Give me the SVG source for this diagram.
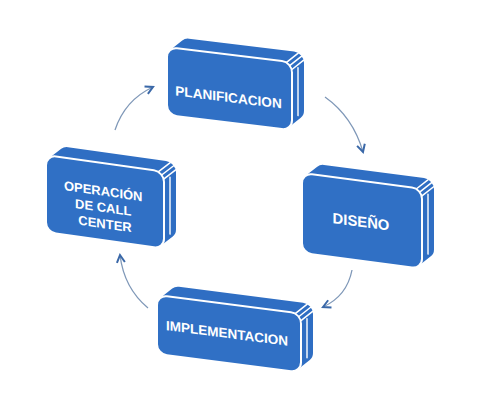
<svg xmlns="http://www.w3.org/2000/svg" width="484" height="414" viewBox="0 0 484 414">
<defs>
<style>
.slab{fill:#2f6ec3;}
.front{fill:#3070c5;stroke:#ffffff;stroke-width:2;}
.det{fill:none;stroke:#ffffff;stroke-width:1.4;stroke-linecap:round;}
.lbl{font-family:"Liberation Sans",Arial,sans-serif;font-weight:bold;fill:#ffffff;text-anchor:middle;}
.conn{fill:none;stroke:#7f98b8;stroke-width:1.3;}
</style>
<marker id="ah" viewBox="0 0 10 10" refX="9" refY="5" markerWidth="10" markerHeight="10" markerUnits="userSpaceOnUse" orient="auto" overflow="visible">
<path d="M1.5,1 L9,5 L1.5,9" fill="none" stroke="#3a68a8" stroke-width="2" stroke-linejoin="miter"/>
</marker>
</defs>
<rect width="484" height="414" fill="#ffffff"/>

<g id="connectors">
<path class="conn" d="M115,130 Q125,100 153,87" marker-end="url(#ah)"/>
<path class="conn" d="M325,97 Q353,117 363,152" marker-end="url(#ah)"/>
<path class="conn" d="M352,270 Q347,296 323,307" marker-end="url(#ah)"/>
<path class="conn" d="M148,308 Q124,288 120,255" marker-end="url(#ah)"/>
</g>

<g id="planificacion" transform="translate(167,47) skewY(7)">
<path class="slab" d="M3.24,2.63 L15.24,-8.37 A10,10 0 0 1 22,-11 H127 A10,10 0 0 1 137,-1 V47 A10,10 0 0 1 133.76,54.37 L121.76,65.37 A10,10 0 0 1 115,68 H10 A10,10 0 0 1 0,58 V10 A10,10 0 0 1 3.24,2.63 Z"/>
<path class="det" d="M131,4.5 V52.5 M124.66,7.41 L136.66,-3.59 M122.66,3.57 L134.66,-7.43 M119.23,0.94 L131.23,-10.06"/>
<rect class="front" x="0" y="0" width="125" height="68" rx="10"/>
<text class="lbl" x="61.5" y="47.5" font-size="13.6">PLANIFICACION</text>
</g>

<g id="diseno" transform="translate(302,173) skewY(7.5)">
<path class="slab" d="M3.24,2.63 L15.24,-8.37 A10,10 0 0 1 22,-11 H122 A10,10 0 0 1 132,-1 V59 A10,10 0 0 1 128.76,66.37 L116.76,77.37 A10,10 0 0 1 110,80 H10 A10,10 0 0 1 0,70 V10 A10,10 0 0 1 3.24,2.63 Z"/>
<path class="det" d="M126,4.5 V64.5 M119.66,7.41 L131.66,-3.59 M117.66,3.57 L129.66,-7.43 M114.23,0.94 L126.23,-10.06"/>
<rect class="front" x="0" y="0" width="120" height="80" rx="10"/>
<text class="lbl" x="59" y="46" font-size="14.8">DISEÑO</text>
</g>

<g id="implementacion" transform="translate(157,295) skewY(7.3)">
<path class="slab" d="M3.24,2.63 L15.24,-8.37 A10,10 0 0 1 22,-11 H146 A10,10 0 0 1 156,-1 V38 A10,10 0 0 1 152.76,45.37 L140.76,56.37 A10,10 0 0 1 134,59 H10 A10,10 0 0 1 0,49 V10 A10,10 0 0 1 3.24,2.63 Z"/>
<path class="det" d="M150,4.5 V43.5 M143.66,7.41 L155.66,-3.59 M141.66,3.57 L153.66,-7.43 M138.23,0.94 L150.23,-10.06"/>
<rect class="front" x="0" y="0" width="144" height="59" rx="10"/>
<text class="lbl" x="70" y="34" font-size="13.5">IMPLEMENTACION</text>
</g>

<g id="operacion" transform="translate(46,155) skewY(8.1)">
<path class="slab" d="M3.24,2.63 L15.24,-8.37 A10,10 0 0 1 22,-11 H120 A10,10 0 0 1 130,-1 V56 A10,10 0 0 1 126.76,63.37 L114.76,74.37 A10,10 0 0 1 108,77 H10 A10,10 0 0 1 0,67 V10 A10,10 0 0 1 3.24,2.63 Z"/>
<path class="det" d="M124,4.5 V61.5 M117.66,7.41 L129.66,-3.59 M115.66,3.57 L127.66,-7.43 M112.23,0.94 L124.23,-10.06"/>
<rect class="front" x="0" y="0" width="118" height="77" rx="10"/>
<text class="lbl" font-size="13">
<tspan x="59" y="32.5">OPERACIÓN</tspan>
<tspan x="59" y="48.8">DE CALL</tspan>
<tspan x="59" y="65">CENTER</tspan>
</text>
</g>
</svg>
